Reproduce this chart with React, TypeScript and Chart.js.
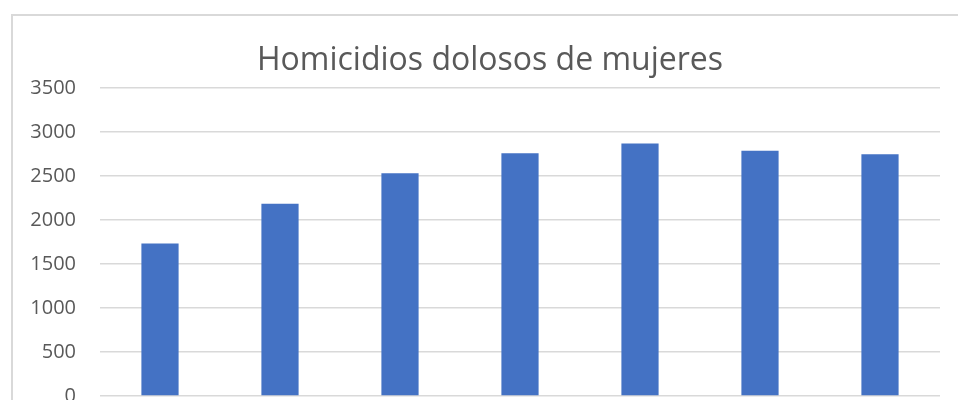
import React, { useEffect, useRef } from "react";
import { Chart, registerables } from "chart.js";

Chart.register(...registerables);

const titleText = "Homicidios dolosos de mujeres";
const categories = ["2015", "2016", "2017", "2018", "2019", "2020", "2021"];
const values = [1732, 2184, 2531, 2758, 2868, 2788, 2747];
const yTicks = [0, 500, 1000, 1500, 2000, 2500, 3000, 3500];

export default function App() {
  const ref = useRef<HTMLCanvasElement | null>(null);

  useEffect(() => {
    if (!ref.current) return;
    const chart = new Chart(ref.current, {
      type: "bar",
      data: {
        labels: categories,
        datasets: [
          {
            label: titleText,
            data: values,
            backgroundColor: "#4472C4",
            borderWidth: 0,
            barPercentage: 0.31,
            categoryPercentage: 1,
          },
        ],
      },
      options: {
        animation: false,
        responsive: false,
        maintainAspectRatio: false,
        layout: { padding: { left: 0, right: 18, top: 88, bottom: 4 } },
        plugins: {
          legend: { display: false },
          tooltip: { enabled: false },
          title: { display: false },
        },
        scales: {
          x: {
            grid: { display: false },
            border: { display: false },
            ticks: {
              color: "#595959",
              font: { family: "'Open Sans', sans-serif", size: 20 },
            },
            afterFit: (s: any) => {
              s.height = 40;
            },
          },
          y: {
            min: 0,
            max: 3500,
            afterBuildTicks: (s: any) => {
              s.ticks = yTicks.map((v) => ({ value: v }));
            },
            grid: { color: "#d9d9d9", lineWidth: 1.5, drawTicks: false },
            border: { display: false },
            ticks: {
              color: "#595959",
              padding: 24,
              font: { family: "'Open Sans', sans-serif", size: 20 },
              callback: (v: any) => String(v),
            },
            afterFit: (s: any) => {
              s.width = 100;
            },
          },
        },
      },
    });
    return () => chart.destroy();
  }, []);

  return (
    <div
      style={{
        position: "fixed",
        left: 0,
        top: 0,
        width: 958,
        height: 400,
        overflow: "hidden",
        background: "#fff",
      }}
    >
      <div
        style={{
          position: "absolute",
          left: 11,
          top: 14,
          width: 980,
          height: 500,
          border: "2px solid #d9d9d9",
          boxSizing: "border-box",
        }}
      />
      <canvas
        ref={ref}
        width={958}
        height={440}
        style={{ position: "absolute", left: 0, top: 0, width: 958, height: 440 }}
      />
      <div
        style={{
          position: "absolute",
          left: 11,
          top: 38,
          width: 958,
          textAlign: "center",
          fontFamily: "'Open Sans', sans-serif",
          fontSize: 32,
          lineHeight: "40px",
          color: "#595959",
          whiteSpace: "nowrap",
        }}
      >
        {titleText}
      </div>
    </div>
  );
}
